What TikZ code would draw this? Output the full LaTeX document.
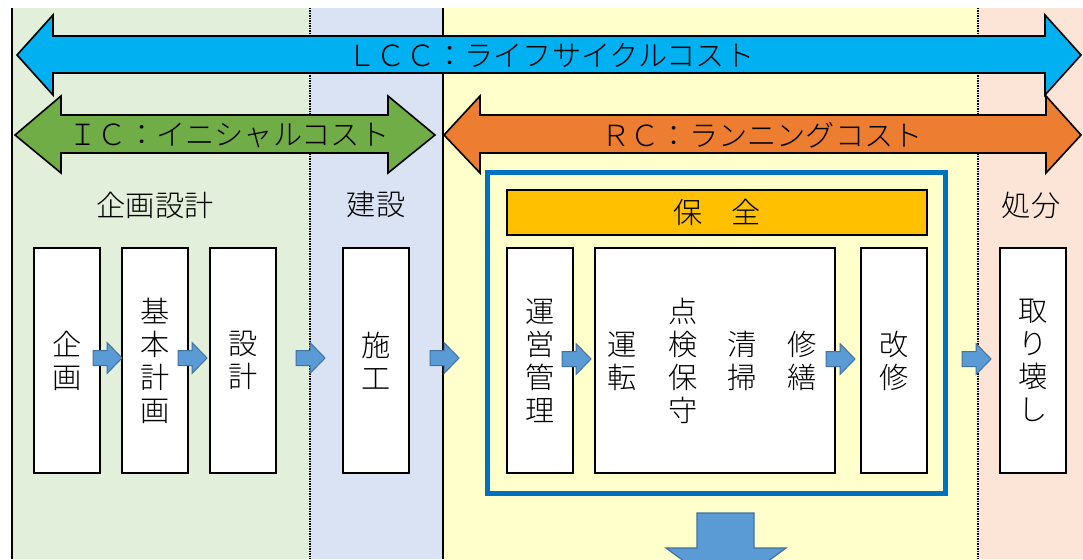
\documentclass[tikz,border=0pt]{standalone}
\usepackage{fontspec}
\setmainfont{Noto Sans CJK JP Light}
\definecolor{lccblue}{HTML}{00B0F0}
\definecolor{icgreen}{HTML}{70AD47}
\definecolor{rcorange}{HTML}{ED7D31}
\definecolor{hozengold}{HTML}{FFC000}
\definecolor{frameblue}{HTML}{0070C0}
\definecolor{arrowfill}{HTML}{5B9BD5}
\definecolor{arrowline}{HTML}{41719C}
\definecolor{bandgreen}{HTML}{E2EFDA}
\definecolor{bandblue}{HTML}{DAE3F3}
\definecolor{bandyellow}{HTML}{FFFFCC}
\definecolor{bandpeach}{HTML}{FCE4D6}
\newcommand\blkarrow[2]{\draw[smallarrow] (#1,#2-7.5) -- ++(14,0) -- ++(0,-8) -- ++(15,15.5) -- ++(-15,15.5) -- ++(0,-8) -- ++(-14,0) -- cycle;}
\tikzset{
  jp/.style={font=\fontsize{29.2}{33}\selectfont, text=black, inner sep=0pt, align=center},
  stagebox/.style={jp, draw=black, line width=2pt, fill=white, minimum width=66, minimum height=225},
  bigarrow/.style={draw=black, line width=1.6pt, line join=miter},
  smallarrow/.style={fill=arrowfill, draw=arrowline, line width=1pt},
  dotline/.style={line width=2pt, draw=black, dash pattern=on 1.5pt off 1pt},
  solidline/.style={line width=2.5pt, draw=black}
}
\begin{document}
\begin{tikzpicture}[x=1pt,y=-1pt]
\useasboundingbox (0,0) rectangle (1083,559);
\fill[white] (0,0) rectangle (1083,559);
% bands
\fill[bandgreen] (12,8) rectangle (310,559);
\fill[bandblue] (310,8) rectangle (443,559);
\fill[bandyellow] (443,8) rectangle (978,559);
\fill[bandpeach] (978,8) rectangle (1083,559);
\draw[dotline] (310,8) -- (310,559);
\draw[dotline] (978,8) -- (978,559);
\draw[solidline] (12,8) -- (12,559);
\draw[solidline] (443,8) -- (443,559);
% LCC arrow
\draw[bigarrow, fill=lccblue] (17,55) -- (53,15) -- (53,36) -- (1045,36) -- (1045,15) -- (1081,55) -- (1045,95) -- (1045,73) -- (53,73) -- (53,95) -- cycle;
\node[jp] (lcc) at (551,55) {ＬＣＣ：ライフサイクルコスト};
% IC arrow
\draw[bigarrow, fill=icgreen] (15,135) -- (61,96) -- (61,115) -- (388,115) -- (388,96) -- (435,135) -- (388,173) -- (388,153) -- (61,153) -- (61,173) -- cycle;
\node[jp] (ic) at (229,135) {ＩＣ：イニシャルコスト};
% RC arrow
\draw[bigarrow, fill=rcorange] (444,135) -- (480,96) -- (480,115) -- (1046,115) -- (1046,96) -- (1081,135) -- (1046,173) -- (1046,153) -- (480,153) -- (480,173) -- cycle;
\node[jp] (rc) at (762,135) {ＲＣ：ランニングコスト};
% section headers
\node[jp] (hkikaku) at (155,205) {企画設計};
\node[jp] (hkensetsu) at (376,205) {建設};
\node[jp] (hshobun) at (1031,205) {処分};
% stage boxes
\node[stagebox] (kikaku) at (67,360.5) {企\\画};
\node[stagebox] (kihon) at (155,360.5) {基\\本\\計\\画};
\node[stagebox] (sekkei) at (243,360.5) {設\\計};
\node[stagebox] (seko) at (376,360.5) {施\\工};
\node[stagebox] (unei) at (540,360.5) {運\\営\\管\\理};
\node[stagebox, minimum width=240] (iji) at (715,360.5) {};
\node[jp] (unten) at (622,361) {運\\転};
\node[jp] (tenken) at (683,361) {点\\検\\保\\守};
\node[jp] (seiso) at (742,361) {清\\掃};
\node[jp] (shuzen) at (802,361) {修\\繕};
\node[stagebox] (kaishu) at (894,360.5) {改\\修};
\node[stagebox] (torikowashi) at (1033,360.5) {取\\り\\壊\\し};
% hozen bar
\node[jp, draw=black, line width=2pt, fill=hozengold, minimum width=420, minimum height=45] (hozen) at (717,212.5) {保　全};
% frame
\draw[frameblue, line width=5pt] (487,172) rectangle (945,493);
% small arrows
\blkarrow{93}{358}
\blkarrow{178}{358}
\blkarrow{296}{358}
\blkarrow{430}{358}
\blkarrow{562}{359}
\blkarrow{826}{359}
\blkarrow{962}{359}
% down arrow
\begin{scope}
\clip (0,0) rectangle (1083,559);
\draw[smallarrow, line width=1.2pt] (697,513) -- (754,513) -- (754,548) -- (786,548) -- (726,592) -- (666,548) -- (697,548) -- cycle;
\end{scope}
\end{tikzpicture}
\end{document}
